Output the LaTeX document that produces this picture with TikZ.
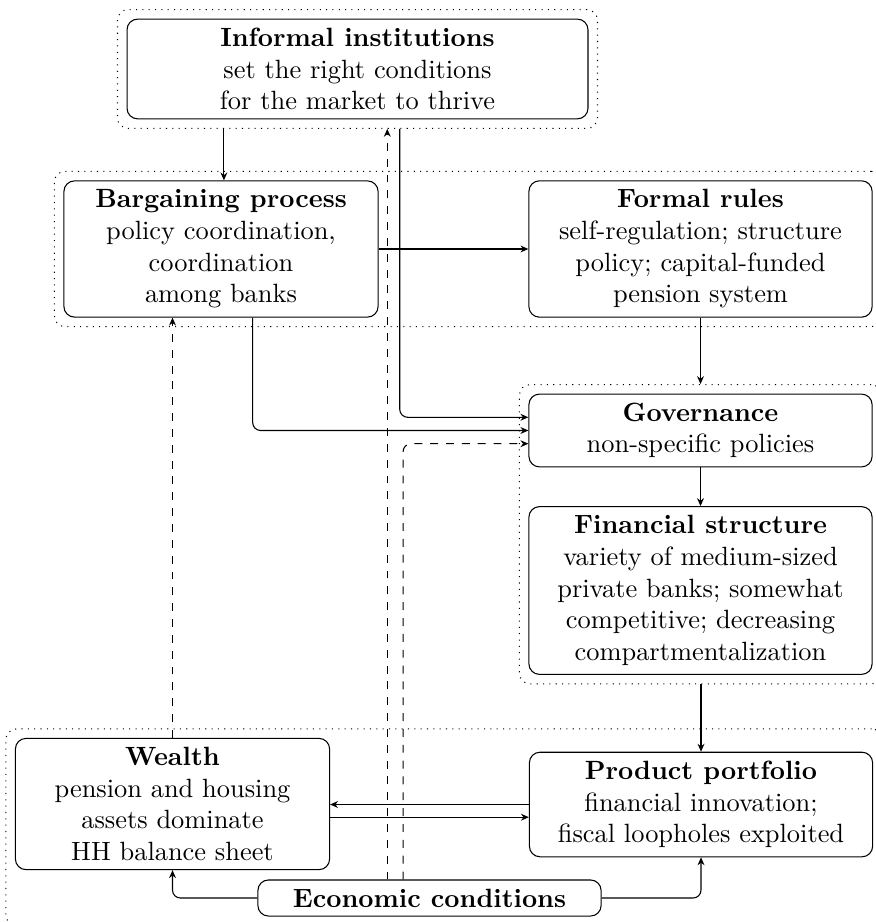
\documentclass[tikz,border=0pt]{standalone}
\usetikzlibrary{arrows.meta,fit}
\begin{document}
\begin{tikzpicture}[x=0.37879pt,y=-0.37879pt,
  box/.style={draw, rounded corners=4pt, align=center, minimum width=130pt, inner sep=3.33pt},
  narrowbox/.style={box, minimum width=119pt},
  group/.style={draw, dotted, rounded corners=4pt, inner sep=3.4pt},
  link/.style={-{Stealth[length=3pt,width=2.6pt]}},
  dlink/.style={link, dashed},
  bendy/.style={rounded corners=3pt}]
\useasboundingbox (0,0) rectangle (875,922);

% boxes
\node[box, minimum width=174.6pt] (informal) at (357.5,69)
  {\textbf{Informal institutions}\\set the right conditions\\for the market to thrive};
\node[narrowbox] (bargain) at (221,249)
  {\textbf{Bargaining process}\\policy coordination,\\coordination\\among banks};
\node[box] (formal) at (700.5,249)
  {\textbf{Formal rules}\\self-regulation; structure\\policy; capital-funded\\pension system};
\node[box] (gov) at (700.5,430.5)
  {\textbf{Governance}\\non-specific policies};
\node[box] (fin) at (700.5,590.5)
  {\textbf{Financial structure}\\variety of medium-sized\\private banks; somewhat\\competitive; decreasing\\compartmentalization};
\node[narrowbox] (wealth) at (172.5,804)
  {\textbf{Wealth}\\pension and housing\\assets dominate\\HH balance sheet};
\node[box] (product) at (701,804.5)
  {\textbf{Product portfolio}\\financial innovation;\\fiscal loopholes exploited};
\node[box] (econ) at (429.5,898)
  {\textbf{Economic conditions}};

% dotted groups
\node[group, fit=(informal)] (g1) {};
\node[group, fit=(bargain)(formal)] (g2) {};
\node[group, fit=(gov)(fin)] (g3) {};
\node[group, fit=(wealth)(product)(econ)] (g4) {};

% connectors
\draw[link] ([xshift=1.1pt]bargain.north |- g1.south) -- ([xshift=1.1pt]bargain.north);
\draw[link] (bargain.east) -- (formal.west);
\draw[link] (formal.south) -- (formal.south |- g3.north);
\draw[link, bendy] ([xshift=16pt]g1.south) |- ([yshift=5pt]gov.west);
\draw[link, bendy] ([xshift=12pt]bargain.south) |- (gov.west);
\draw[dlink, bendy] ([xshift=-10pt]econ.north) |- ([yshift=-5pt]gov.west);
\draw[dlink] ([xshift=-16pt]econ.north) -- ([xshift=-16pt]econ.north |- g1.south);
\draw[dlink] (wealth.north) -- (wealth.north |- bargain.south);
\draw[link] (gov.south) -- (fin.north);
\draw[link] (g3.south -| product.north) -- (product.north);
\draw[link] (product.west) -- (product.west -| wealth.east);
\draw[link] ([yshift=-5pt]wealth.east) -- ([yshift=-5pt]wealth.east -| product.west);
\draw[link, bendy] (econ.west) -| (wealth.south);
\draw[link, bendy] (econ.east) -| (product.south);
\end{tikzpicture}
\end{document}
